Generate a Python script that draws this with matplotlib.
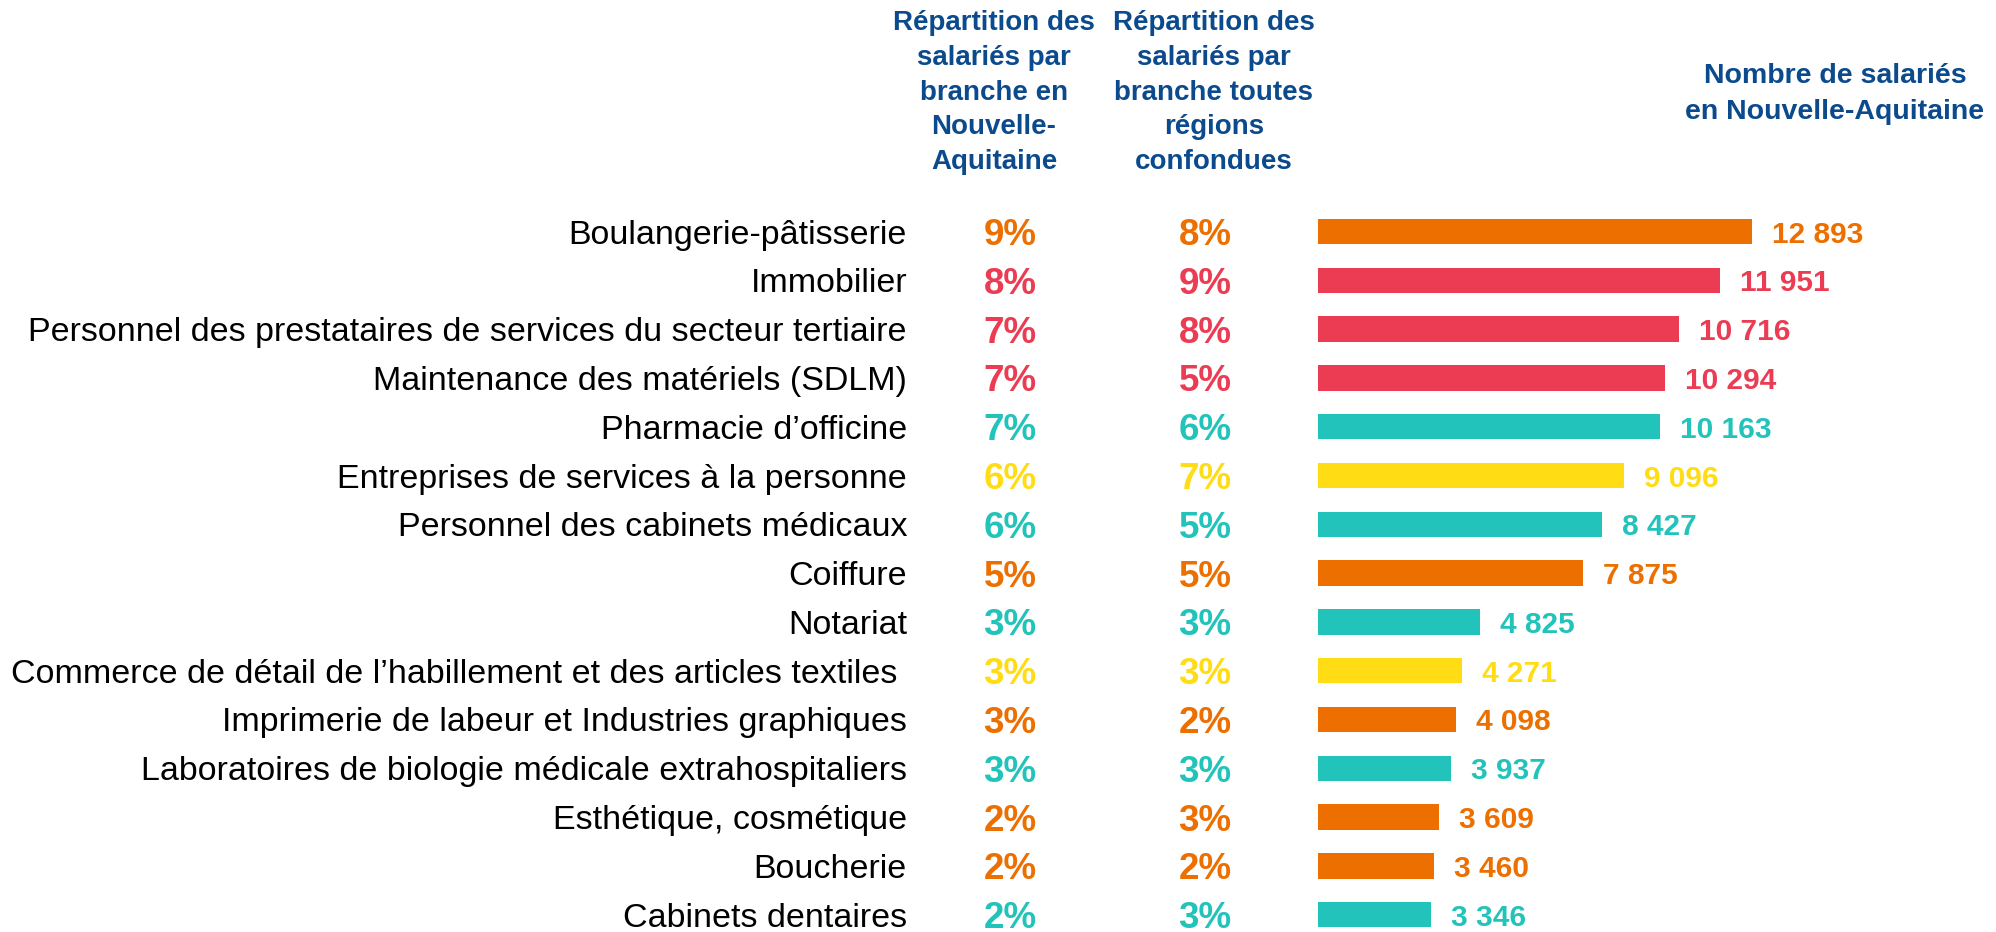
import matplotlib
matplotlib.use("Agg")
import matplotlib.pyplot as plt
from matplotlib.transforms import blended_transform_factory

plt.rcParams['font.family'] = ['Liberation Sans', 'DejaVu Sans']

categories = [
    "Boulangerie-pâtisserie",
    "Immobilier",
    "Personnel des prestataires de services du secteur tertiaire",
    "Maintenance des matériels (SDLM)",
    "Pharmacie d’officine",
    "Entreprises de services à la personne",
    "Personnel des cabinets médicaux",
    "Coiffure",
    "Notariat",
    "Commerce de détail de l’habillement et des articles textiles ",
    "Imprimerie de labeur et Industries graphiques",
    "Laboratoires de biologie médicale extrahospitaliers",
    "Esthétique, cosmétique",
    "Boucherie",
    "Cabinets dentaires",
]
pct_region = [9, 8, 7, 7, 7, 6, 6, 5, 3, 3, 3, 3, 2, 2, 2]
pct_all = [8, 9, 8, 5, 6, 7, 5, 5, 3, 3, 2, 3, 3, 2, 3]
salaries = [12893, 11951, 10716, 10294, 10163, 9096, 8427, 7875, 4825, 4271, 4098, 3937, 3609, 3460, 3346]
groups = ["orange", "red", "red", "red", "teal", "yellow", "teal", "orange",
          "teal", "yellow", "orange", "teal", "orange", "orange", "teal"]

palette = {"orange": "#EC6F00", "red": "#EB3C53", "teal": "#22C3BA", "yellow": "#FFDC14"}
header_color = "#0B4A8C"

W, H = 1996, 932
fig = plt.figure(figsize=(W / 100, H / 100), dpi=100)

# axes for bars: left edge at x=1318 px, full height
x0 = 1318
ax = fig.add_axes([x0 / W, 0, 1 - x0 / W, 1])
px_per_unit = 434 / 12893
ax.set_xlim(0, (W - x0) / px_per_unit)
row0, step = 231.5, 48.8
ax.set_ylim((H - row0) / step, -row0 / step)
ax.axis("off")

ypos = list(range(len(categories)))
cols = [palette[g] for g in groups]
ax.barh(ypos, salaries, height=0.52, color=cols)

for y, v, c in zip(ypos, salaries, cols):
    label = f"{v:,}".replace(",", " ")
    ax.annotate(label, xy=(v, y), xytext=(20, 0), textcoords="offset pixels",
                ha="left", va="center_baseline", fontsize=21.5, fontweight="bold", color=c)

tr = blended_transform_factory(fig.transFigure, ax.transData)
for y, cat, p1, p2, c in zip(ypos, categories, pct_region, pct_all, cols):
    ax.text(907 / W, y, cat, transform=tr, ha="right", va="center_baseline",
            fontsize=24.5, color="black", clip_on=False)
    ax.text(1010 / W, y, f"{p1}%", transform=tr, ha="center", va="center_baseline",
            fontsize=26.5, fontweight="bold", color=c, clip_on=False)
    ax.text(1205 / W, y, f"{p2}%", transform=tr, ha="center", va="center_baseline",
            fontsize=26.5, fontweight="bold", color=c, clip_on=False)

hy = 1 - 92.5 / H
fig.text(994 / W, hy, "Répartition des\nsalariés par\nbranche en\nNouvelle-\nAquitaine",
         ha="center", va="center", multialignment="center", fontsize=20,
         fontweight="bold", color=header_color, linespacing=1.43)
fig.text(1214 / W, hy, "Répartition des\nsalariés par\nbranche toutes\nrégions\nconfondues",
         ha="center", va="center", multialignment="center", fontsize=20,
         fontweight="bold", color=header_color, linespacing=1.43)
fig.text(1835 / W, 1 - 94 / H, "Nombre de salariés\nen Nouvelle-Aquitaine",
         ha="center", va="center", multialignment="center", fontsize=20.5,
         fontweight="bold", color=header_color, linespacing=1.5)

fig.savefig("out.png", dpi=100, facecolor="white")
